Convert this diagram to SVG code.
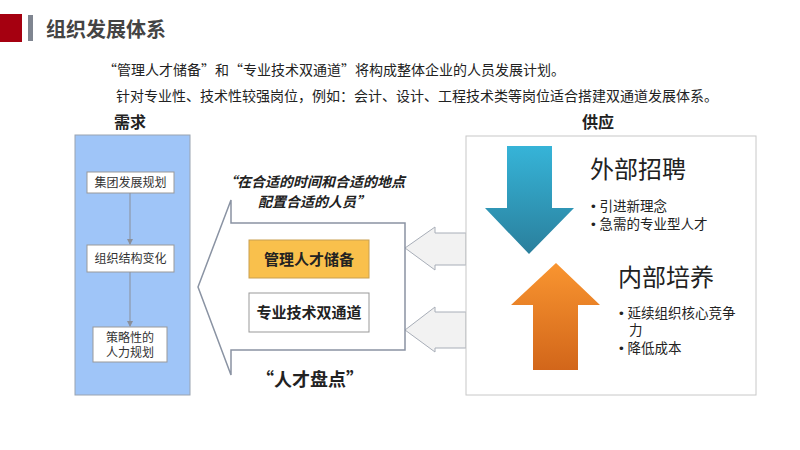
<svg xmlns="http://www.w3.org/2000/svg" width="800" height="450" viewBox="0 0 800 450">
<defs>
<style>
text{font-family:"Liberation Sans","Noto Sans CJK SC",sans-serif;fill:#222}
.cjk{font-family:"Noto Sans CJK SC",sans-serif}
.b{font-weight:bold}
.small{font-size:12px;fill:#333}
.box{fill:#fff;stroke:#999;stroke-width:1}
.conn{stroke:#8a8f99;stroke-width:1;fill:none}
.garrow{fill:#f2f2f2;stroke:#a8aeb8;stroke-width:1}
</style>
<linearGradient id="gb" x1="0" y1="0" x2="0" y2="1"><stop offset="0" stop-color="#36b4d8"/><stop offset="1" stop-color="#2a7f9c"/></linearGradient>
<linearGradient id="go" x1="0" y1="0" x2="0" y2="1"><stop offset="0" stop-color="#f99530"/><stop offset="1" stop-color="#d2661a"/></linearGradient>
<marker id="ah" markerWidth="6" markerHeight="6" refX="5" refY="3" orient="auto"><path d="M0,0 L6,3 L0,6 z" fill="#8a8f99"/></marker>
</defs>
<rect width="800" height="450" fill="#fff"/>
<rect x="0" y="14" width="22" height="28" fill="#a50010"/>
<rect x="28" y="15" width="5" height="26" fill="#7f8590"/>
<text x="46" y="37" class="b" font-size="20" style="fill:#444">组织发展体系</text>
<text x="103" y="75" font-size="14" class="cjk">“管理人才储备”和“专业技术双通道”将构成整体企业的人员发展计划。</text>
<text x="116" y="101" font-size="14">针对专业性、技术性较强岗位，例如：会计、设计、工程技术类等岗位适合搭建双通道发展体系。</text>
<text x="114" y="128" class="b" font-size="16">需求</text>
<text x="582" y="128" class="b" font-size="16">供应</text>

<g id="demand">
<rect x="75" y="135" width="115" height="260" fill="#9fc5f8" stroke="#9aa3b0"/>
</g>
<g id="n1"><rect x="87" y="172" width="87" height="21" class="box"/><text x="130.5" y="187" text-anchor="middle" class="small">集团发展规划</text></g>
<g id="n2"><rect x="87" y="245" width="87" height="27" class="box"/><text x="130.5" y="263" text-anchor="middle" class="small">组织结构变化</text></g>
<g id="n3"><rect x="93" y="327" width="74" height="35" class="box"/><text x="130" y="342" text-anchor="middle" class="small">策略性的</text><text x="130" y="357" text-anchor="middle" class="small">人力规划</text></g>
<g id="connectors">
<line x1="130" y1="193" x2="130" y2="244" class="conn" marker-end="url(#ah)"/>
<line x1="130" y1="272" x2="130" y2="326" class="conn" marker-end="url(#ah)"/>
<polygon points="405,248 435,227 435,233 466,233 466,265 435,265 435,270" class="garrow"/>
<polygon points="405,330 435,307 435,312 466,312 466,348 435,348 435,352" class="garrow"/>
</g>

<g id="bigarrow">
<polygon points="198,287 231,200 231,223 405,223 405,350 231,350 231,375" fill="#fff" stroke="#8a93a3" stroke-width="1.5"/>
<text x="314" y="187" text-anchor="middle" class="b cjk" font-size="14" font-style="italic">“在合适的时间和合适的地点</text>
<text x="314" y="207" text-anchor="middle" class="b cjk" font-size="14" font-style="italic">配置合适的人员”</text>
</g>
<g id="mgmt"><rect x="249" y="240" width="120" height="38" fill="#f9c04c" stroke="#c9a050"/><text x="309" y="265" text-anchor="middle" class="b" font-size="15">管理人才储备</text></g>
<g id="tech"><rect x="249" y="293" width="120" height="39" class="box"/><text x="309" y="318" text-anchor="middle" class="b" font-size="15">专业技术双通道</text></g>
<text x="310" y="386" text-anchor="middle" class="b cjk" font-size="18">“人才盘点”</text>

<g id="supply">
<rect x="466" y="136" width="290" height="259" fill="#fff" stroke="#c8c8c8"/>
<polygon points="507,146 552,146 552,208 574,208 529,254 485,208 507,208" fill="url(#gb)"/>
<polygon points="556,263 600,305 578,305 578,370 533,370 533,305 511,305" fill="url(#go)"/>
<text x="590" y="178" font-size="24">外部招聘</text>
<text x="591" y="211" font-size="13.5">• 引进新理念</text>
<text x="591" y="229" font-size="13.5">• 急需的专业型人才</text>
<text x="618" y="286" font-size="24">内部培养</text>
<text x="619" y="318" font-size="13.5">• 延续组织核心竞争</text>
<text x="629" y="335" font-size="13.5">力</text>
<text x="619" y="353" font-size="13.5">• 降低成本</text>
</g>
</svg>
